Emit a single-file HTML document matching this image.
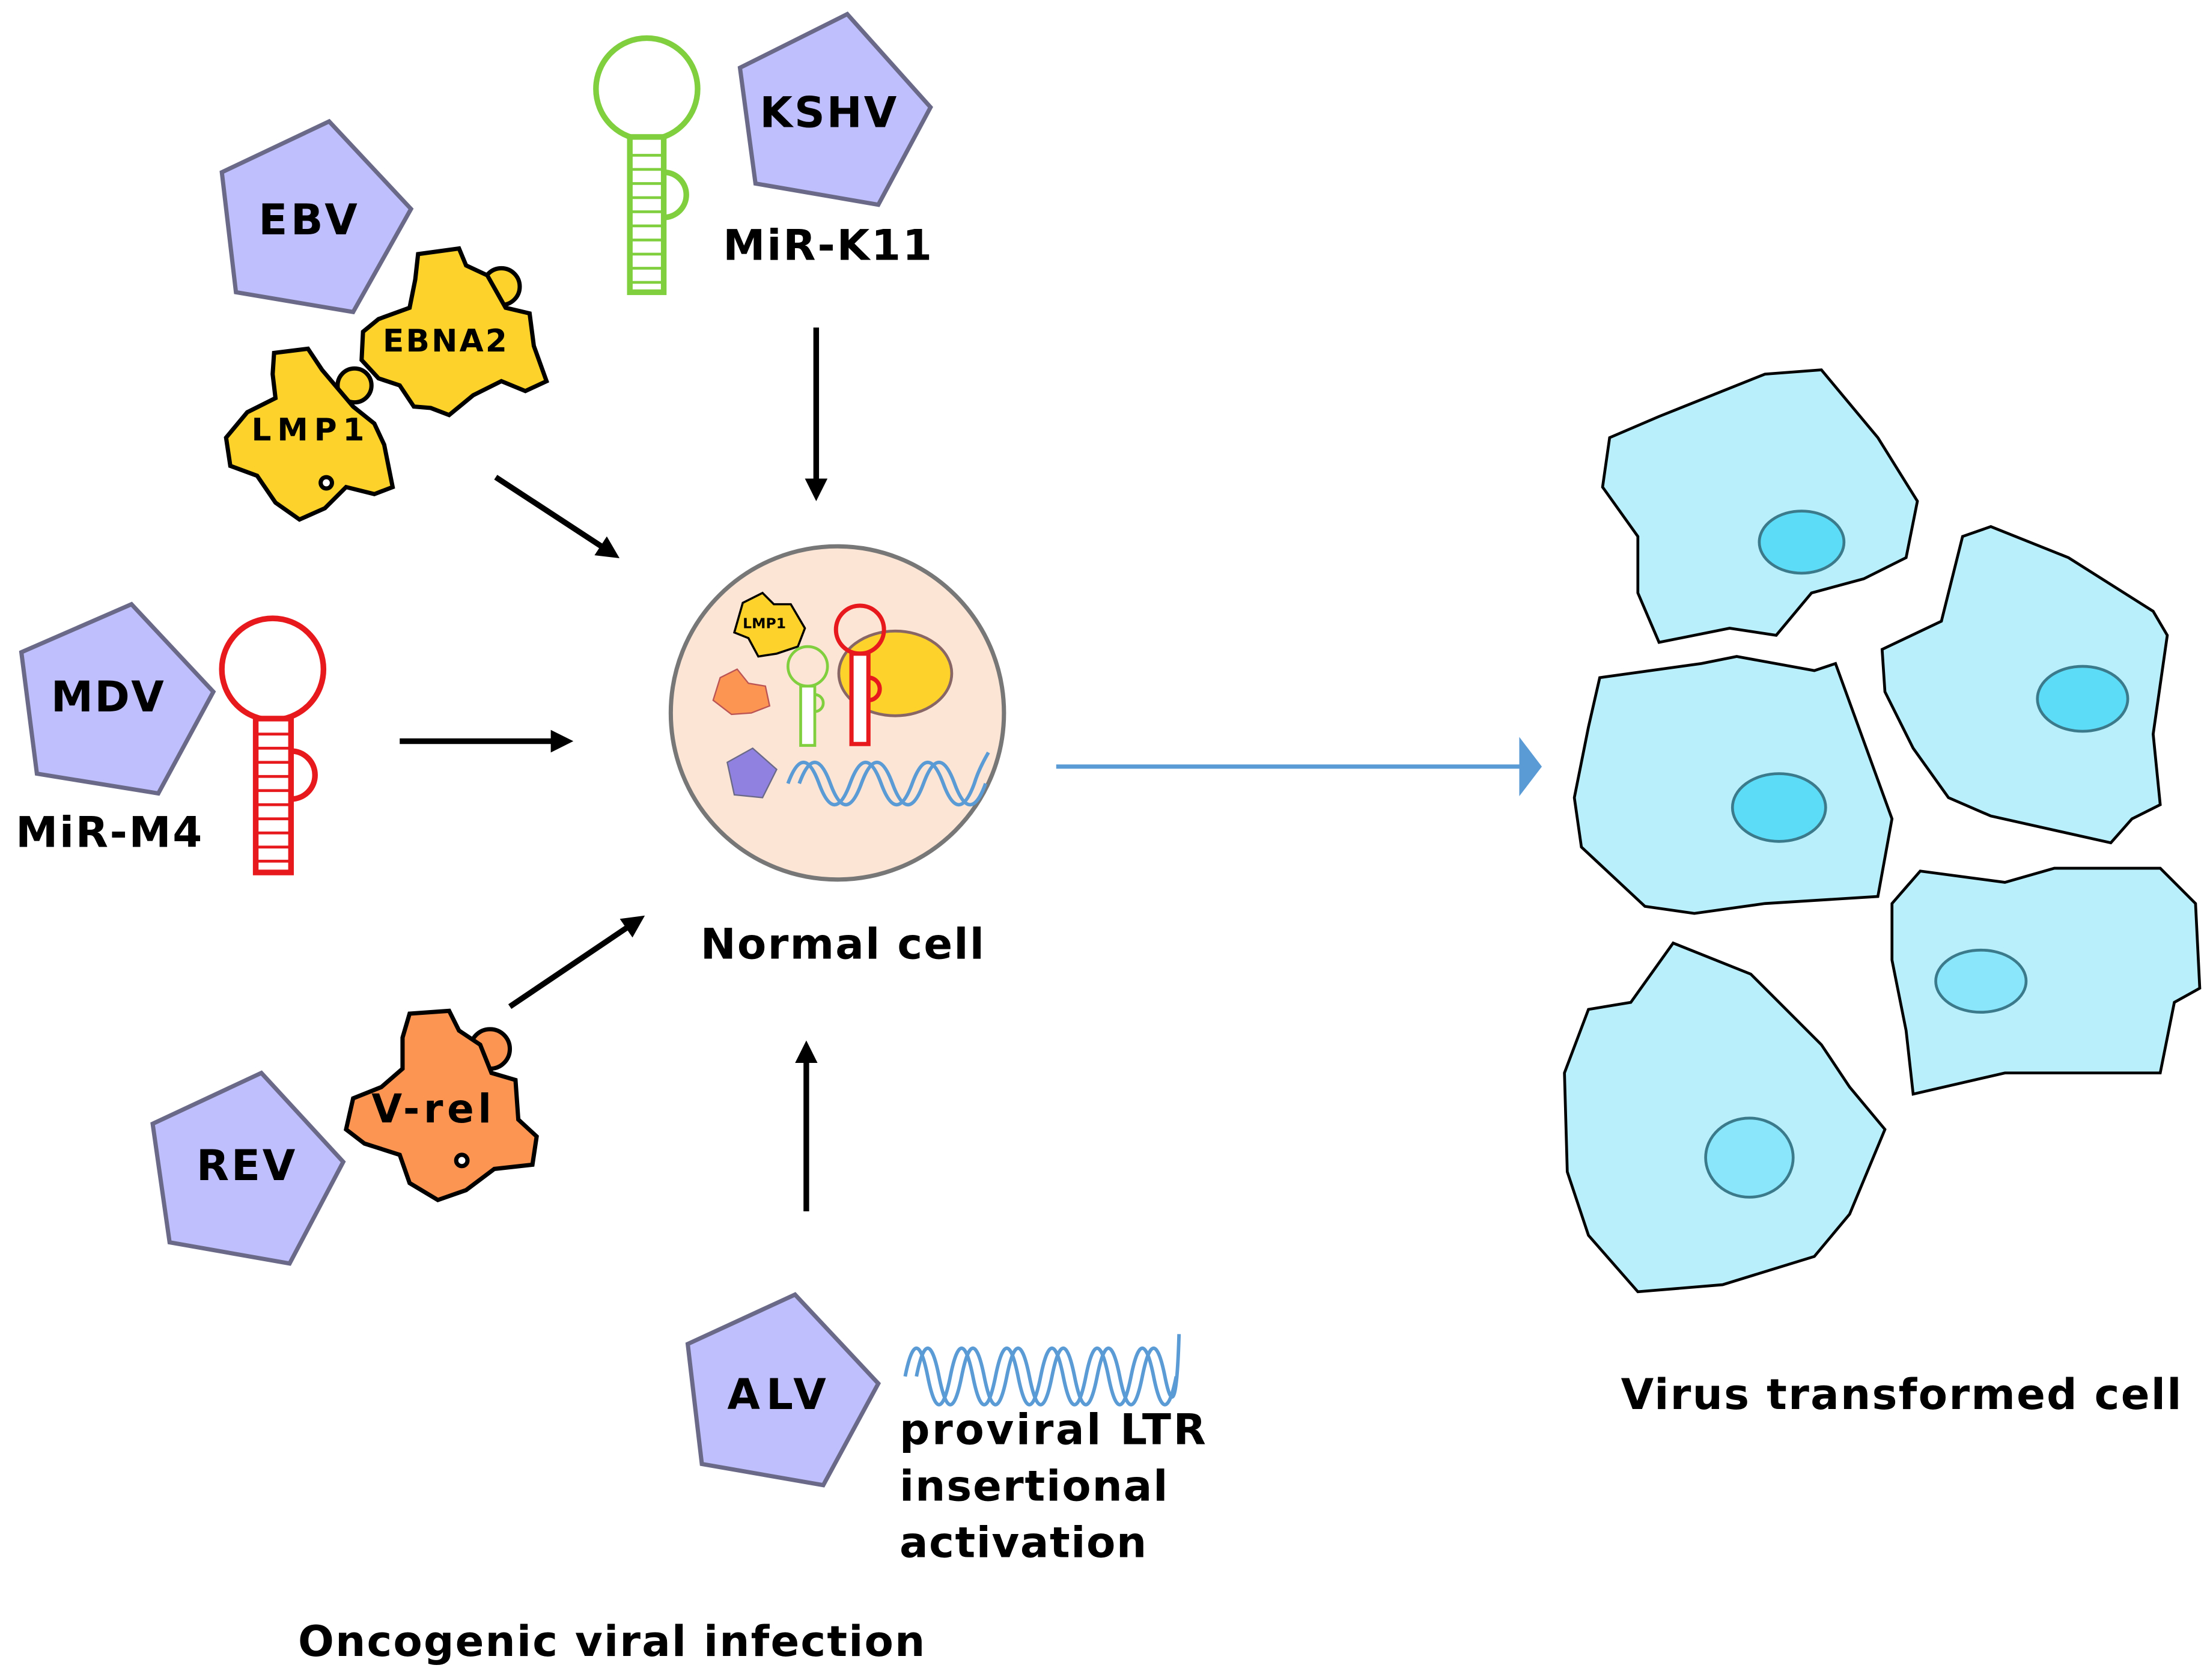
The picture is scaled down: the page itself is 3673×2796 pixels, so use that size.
<!DOCTYPE html>
<html><head><meta charset="utf-8"><style>
html,body{margin:0;padding:0;background:#fff}
svg{display:block}
text{font-family:"DejaVu Sans","Liberation Sans",sans-serif;font-weight:bold;fill:#000}
</style></head><body>
<svg width="3673" height="2796" viewBox="0 0 1563 1190" xmlns="http://www.w3.org/2000/svg">
<defs>
<marker id="ah" markerWidth="4" markerHeight="4" refX="2" refY="2" orient="auto" markerUnits="strokeWidth">
<path d="M0,0 L4,2 L0,4 z" fill="#000"/></marker>
</defs>
<g fill="#bfbffd" stroke="#6a6a88" stroke-width="3">
<polygon points="157,122 233,86 291,148 250,221 167,207"/>
<polygon points="524,48 600,10 659,76 622,145 535,130"/>
<polygon points="15,462 93,428 151,490 112,562 26,548"/>
<polygon points="108,796 185,760 243,823 205,895 120,880"/>
<polygon points="487,952 563,917 622,980 583,1052 497,1037"/>
</g>
<g fill="none" stroke="#7fcf3f" stroke-width="4">
<circle cx="458" cy="63" r="36"/>
<path d="M470,122 a16,16 0 1 1 0,32"/>
<rect x="446" y="97" width="24" height="110" fill="#fff"/>
<path d="M446,110H470M446,120H470M446,130H470M446,140H470M446,150H470M446,160H470M446,170H470M446,180H470M446,190H470M446,200H470" stroke-width="2"/>
</g>
<g fill="none" stroke="#e8191c" stroke-width="4">
<circle cx="193" cy="474" r="36"/>
<path d="M206,532 a16,16 0 1 1 0,34"/>
<rect x="181" y="509" width="25" height="109" fill="#fff"/>
<path d="M181,520H206M181,530H206M181,540H206M181,550H206M181,560H206M181,570H206M181,580H206M181,590H206M181,600H206M181,610H206" stroke-width="2"/>
</g>
<g fill="#fdd22a" stroke="#000" stroke-width="3">
<circle cx="355" cy="203" r="13"/>
<path d="M296,180 L325,176 330,188 345,195 358,218 375,222 378,245 387,270 372,277 355,270 335,280 318,294 305,289 293,288 283,273 268,268 256,255 257,235 268,226 290,218 294,198z"/>
<circle cx="251" cy="273" r="12"/>
<path d="M194,250 L218,247 228,262 250,288 265,300 272,315 278,345 265,350 245,345 230,360 212,368 195,356 182,337 163,330 160,310 175,292 195,282 193,265z"/>
<circle cx="231" cy="342" r="4" fill="#fff"/>
</g>
<g fill="#fd9552" stroke="#000" stroke-width="3">
<circle cx="347" cy="743" r="14"/>
<path d="M290,718 L318,716 325,730 340,740 348,760 365,765 367,793 380,805 377,825 350,828 330,843 310,850 290,838 283,818 258,810 245,800 250,778 270,770 285,757 285,735z"/>
<circle cx="327" cy="822" r="4" fill="#fff"/>
</g>
<circle cx="593" cy="505" r="118" fill="#fde5d5" stroke="#777" stroke-width="3"/>
<ellipse cx="634" cy="477" rx="40" ry="30" fill="#fdd22a" stroke="#866" stroke-width="2"/>
<path d="M526,427 L540,420 548,428 560,428 570,445 565,458 550,463 537,465 530,452 520,448z" fill="#fdd22a" stroke="#000" stroke-width="1.5"/>
<text x="526" y="445" font-size="10">LMP1</text>
<path d="M510,480 L522,474 530,484 542,486 545,500 532,505 518,506 505,496z" fill="#fd9552" stroke="#b55" stroke-width="1"/>
<polygon points="515,540 533,530 550,545 540,565 520,563" fill="#9080e0" stroke="#6a6a88" stroke-width="1"/>
<g fill="none" stroke="#7fcf3f" stroke-width="2"><circle cx="572" cy="472" r="14"/><rect x="567" y="486" width="10" height="42" fill="#fff"/><path d="M577,492a6,6 0 1 1 0,12"/></g>
<g fill="none" stroke="#e8191c" stroke-width="3"><circle cx="609" cy="446" r="17"/><rect x="603" y="463" width="12" height="64" fill="#fff"/><path d="M615,480a8,8 0 1 1 0,16"/></g>
<g fill="none" stroke="#5b9bd5" stroke-width="2.5">
<path d="M558,555 q11,-30 22,0 t22,0 t22,0 t22,0 t22,0 t22,0 q3,-10 10,-22"/>
<path d="M566,555 q11,-30 22,0 t22,0 t22,0 t22,0 t22,0 t22,0"/>
<path d="M641,975 q8,-40 16,0 t16,0 t16,0 t16,0 t16,0 t16,0 t16,0 t16,0 t16,0 t16,0 t16,0 t16,0"/>
<path d="M649,975 q8,-40 16,0 t16,0 t16,0 t16,0 t16,0 t16,0 t16,0 t16,0 t16,0 t16,0 t16,0 t10,-30"/>
</g>
<g stroke="#000" stroke-width="4" fill="none">
<line x1="351" y1="338" x2="432" y2="391" marker-end="url(#ah)"/>
<line x1="578" y1="232" x2="578" y2="347" marker-end="url(#ah)"/>
<line x1="283" y1="525" x2="398" y2="525" marker-end="url(#ah)"/>
<line x1="361" y1="713" x2="450" y2="653" marker-end="url(#ah)"/>
<line x1="571" y1="858" x2="571" y2="745" marker-end="url(#ah)"/>
</g>
<line x1="748" y1="543" x2="1078" y2="543" stroke="#5b9bd5" stroke-width="3"/>
<polygon points="1076,522 1092,543 1076,564" fill="#5b9bd5"/>
<g fill="#b9eefb" stroke="#000" stroke-width="2">
<path d="M1140,310 L1175,295 1250,265 1290,262 1330,310 1358,355 1350,395 1320,410 1283,420 1258,450 1225,445 1175,455 1160,420 1160,380 1135,345z"/>
<path d="M1133,480 L1205,470 1230,465 1285,475 1300,470 1340,580 1330,635 1250,640 1200,647 1165,642 1120,600 1115,565 1125,515z"/>
<path d="M1390,380 L1410,373 1465,395 1525,433 1535,450 1525,520 1530,570 1510,580 1495,597 1410,578 1380,565 1355,530 1335,490 1333,460 1375,440z"/>
<path d="M1340,640 L1360,617 1420,625 1455,615 1530,615 1555,640 1558,700 1540,710 1530,760 1490,760 1420,760 1355,775 1350,730 1340,680z"/>
<path d="M1125,715 L1155,710 1185,668 1240,690 1290,740 1310,770 1335,800 1310,860 1285,890 1220,910 1160,915 1125,875 1110,830 1108,760z"/>
</g>
<g stroke="#3a7a8a" stroke-width="2">
<ellipse cx="1276" cy="384" rx="30" ry="22" fill="#5ddcf8"/>
<ellipse cx="1260" cy="572" rx="33" ry="24" fill="#5ddcf8"/>
<ellipse cx="1475" cy="495" rx="32" ry="23" fill="#5ddcf8"/>
<ellipse cx="1403" cy="695" rx="32" ry="22" fill="#8ae6fb"/>
<ellipse cx="1239" cy="820" rx="31" ry="28" fill="#8ae6fb"/>
</g>
<text x="183" y="166" font-size="30" textLength="70">EBV</text>
<text x="538" y="90" font-size="30" textLength="97">KSHV</text>
<text x="512" y="184" font-size="30" textLength="148">MiR-K11</text>
<text x="36" y="504" font-size="30" textLength="80">MDV</text>
<text x="11" y="600" font-size="30" textLength="132">MiR-M4</text>
<text x="139" y="836" font-size="30" textLength="70">REV</text>
<text x="515" y="998" font-size="30" textLength="70">ALV</text>
<text x="271" y="249" font-size="22" textLength="88">EBNA2</text>
<text x="178" y="312" font-size="22" textLength="80">LMP1</text>
<text x="263" y="795" font-size="28" textLength="85">V-rel</text>
<text x="496" y="679" font-size="30" textLength="201">Normal cell</text>
<text x="637" y="1023" font-size="30" textLength="217">proviral LTR</text>
<text x="637" y="1063" font-size="30" textLength="190">insertional</text>
<text x="637" y="1103" font-size="30" textLength="175">activation</text>
<text x="211" y="1173" font-size="30" textLength="444">Oncogenic viral infection</text>
<text x="1148" y="998" font-size="30" textLength="397">Virus transformed cell</text>
</svg>
</body></html>
